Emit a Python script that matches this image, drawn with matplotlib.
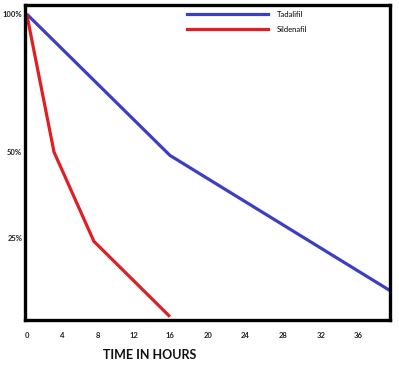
import numpy as np
import matplotlib
matplotlib.use("Agg")
import matplotlib.pyplot as plt
from matplotlib.lines import Line2D

# Data (hours, percent remaining)
tad_hours = [0, 16, 39.3]
tad_pct = [100, 49, 9]
sil_hours = [0, 3.05, 7.5, 16]
sil_pct = [100, 50, 24, 1]
x_ticks = [0, 4, 8, 12, 16, 20, 24, 28, 32, 36]
y_ticks = [25, 50, 100]
y_tick_labels = ["25%", "50%", "100%"]
series_names = ["Tadalifil", "Sildenafil"]
xlabel = "TIME IN HOURS"

# Non-linear vertical scale as drawn in the original picture
_v = np.array([-50.0, 0.0, 25.0, 50.0, 100.0, 150.0])
_u = np.array([-164.0, 0.0, 82.0, 168.0, 306.0, 444.0])
def fwd(v):
    return np.interp(v, _v, _u)
def inv(u):
    return np.interp(u, _u, _v)

# Slightly uneven horizontal scale as drawn in the original picture
_h = np.array([-20.0, 0.0, 16.0, 36.0, 60.0])
_p = np.array([26.7 - 179.2, 26.7, 170.0, 358.7, 358.7 + 226.3])
def xfwd(v):
    return np.interp(v, _h, _p)
def xinv(u):
    return np.interp(u, _p, _h)

W, H = 399, 368
fig = plt.figure(figsize=(W / 100, H / 100), dpi=100)
ax = fig.add_axes([25 / W, (H - 320) / H, 365 / W, 315 / H])
ax.set_yscale("function", functions=(fwd, inv))
ax.set_xscale("function", functions=(xfwd, xinv))

blue = "#3c3fc4"
red = "#e01e24"
ax.plot(tad_hours, tad_pct, color=blue, lw=2.3, solid_capstyle="butt")
ax.plot(sil_hours, sil_pct, color=red, lw=2.3, solid_capstyle="butt")

ax.set_xlim(xinv(25), xinv(390))
ax.set_ylim(0, inv(315))

for s in ax.spines.values():
    s.set_linewidth(2.4)
    s.set_color("black")

font = "Lato"
ax.set_xticks(x_ticks)
ax.set_xticklabels([str(t) for t in x_ticks], fontsize=5.5, fontfamily=font, fontweight="bold", color="#222222")
ax.xaxis.set_minor_locator(matplotlib.ticker.NullLocator())
ax.set_yticks(y_ticks)
ax.set_yticklabels(y_tick_labels, fontsize=5.5, fontfamily=font, fontweight="bold", color="#222222")
ax.yaxis.set_minor_locator(matplotlib.ticker.NullLocator())
ax.tick_params(axis="both", length=0)
ax.tick_params(axis="x", pad=9)
ax.tick_params(axis="y", pad=2)

fig.text(149.5 / W, 1 - 355 / H, xlabel, ha="center", va="center", fontsize=9,
         fontfamily=font, fontweight="bold", color="#111111")

handles = [Line2D([], [], color=blue, lw=2.3), Line2D([], [], color=red, lw=2.3)]
leg = ax.legend(handles, series_names, loc="upper left",
                bbox_to_anchor=(187 / W, 1 - 11 / H), bbox_transform=fig.transFigure,
                frameon=False, borderpad=0, borderaxespad=0, handlelength=10.6,
                handletextpad=1.2, labelspacing=1.0,
                prop={"family": font, "size": 5.5})

fig.savefig("out.png", dpi=100, facecolor="white")
